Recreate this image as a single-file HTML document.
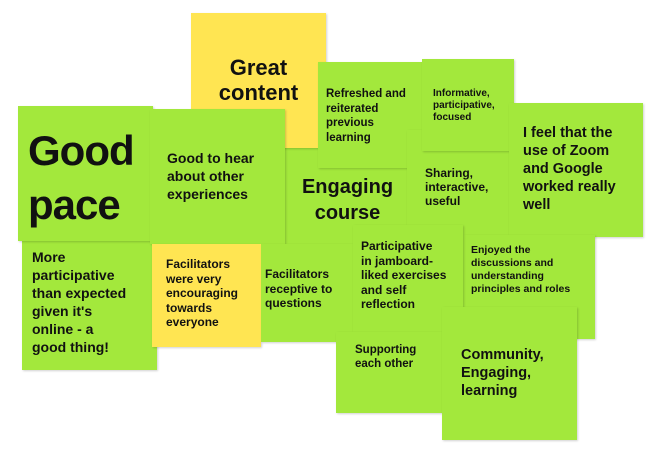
<!DOCTYPE html>
<html><head><style>
body{margin:0;width:657px;height:456px;background:#fff;position:relative;overflow:hidden;font-family:"Liberation Sans",sans-serif;font-weight:bold;color:#111}
.n{position:absolute;background:#a3e83c;box-shadow:1px 1px 2px rgba(0,0,0,.18);box-sizing:border-box}
.y{background:#ffe552}
.t{position:absolute;line-height:1.2}
</style></head><body>
<div class="n" style="left:285px;top:148px;width:125px;height:135px"><div class="t" style="left:5px;top:26px;width:115px;text-align:center;font-size:20px;line-height:26px">Engaging course</div></div>
<div class="n y" style="left:191px;top:13px;width:135px;height:135px"><div class="t" style="left:0;top:42px;width:135px;text-align:center;font-size:22px;line-height:25px">Great content</div></div>
<div class="n" style="left:22px;top:234px;width:135px;height:136px"><div class="t" style="left:10px;top:14px;font-size:14px;line-height:18px">More<br>participative<br>than expected<br>given it's<br>online - a<br>good thing!</div></div>
<div class="n" style="left:18px;top:106px;width:135px;height:135px"><div class="t" style="left:10px;top:18px;font-size:42px;line-height:54px;letter-spacing:-1px">Good<br>pace</div></div>
<div class="n" style="left:150px;top:109px;width:135px;height:135px"><div class="t" style="left:17px;top:40px;font-size:14px;line-height:18px">Good to hear<br>about other<br>experiences</div></div>
<div class="n y" style="left:152px;top:244px;width:109px;height:103px"><div class="t" style="left:14px;top:13px;font-size:12px;line-height:14.5px">Facilitators<br>were very<br>encouraging<br>towards<br>everyone</div></div>
<div class="n" style="left:261px;top:244px;width:94px;height:98px"><div class="t" style="left:4px;top:23px;font-size:12px;line-height:14.5px;white-space:nowrap">Facilitators<br>receptive to<br>questions</div></div>
<div class="n" style="left:318px;top:62px;width:104px;height:106px"><div class="t" style="left:8px;top:25px;font-size:11.5px;line-height:14.5px;white-space:nowrap">Refreshed and<br>reiterated<br>previous<br>learning</div></div>
<div class="n" style="left:407px;top:130px;width:104px;height:105px"><div class="t" style="left:18px;top:36px;font-size:12px;line-height:14px">Sharing,<br>interactive,<br>useful</div></div>
<div class="n" style="left:422px;top:59px;width:92px;height:92px"><div class="t" style="left:11px;top:29px;font-size:10px;line-height:12px">Informative,<br>participative,<br>focused</div></div>
<div class="n" style="left:509px;top:103px;width:134px;height:134px"><div class="t" style="left:14px;top:21px;font-size:14.5px;line-height:18px">I feel that the<br>use of Zoom<br>and Google<br>worked really<br>well</div></div>
<div class="n" style="left:463px;top:235px;width:132px;height:104px"><div class="t" style="left:8px;top:9px;font-size:10.5px;line-height:13px;white-space:nowrap">Enjoyed the<br>discussions and<br>understanding<br>principles and roles</div></div>
<div class="n" style="left:353px;top:225px;width:110px;height:107px"><div class="t" style="left:8px;top:14px;font-size:12px;line-height:14.5px;white-space:nowrap">Participative<br>in jamboard-<br>liked exercises<br>and self<br>reflection</div></div>
<div class="n" style="left:336px;top:332px;width:108px;height:81px"><div class="t" style="left:19px;top:11px;font-size:11.5px;line-height:14px">Supporting<br>each other</div></div>
<div class="n" style="left:442px;top:307px;width:135px;height:133px"><div class="t" style="left:19px;top:39px;font-size:14.5px;line-height:18px">Community,<br>Engaging,<br>learning</div></div>
</body></html>
